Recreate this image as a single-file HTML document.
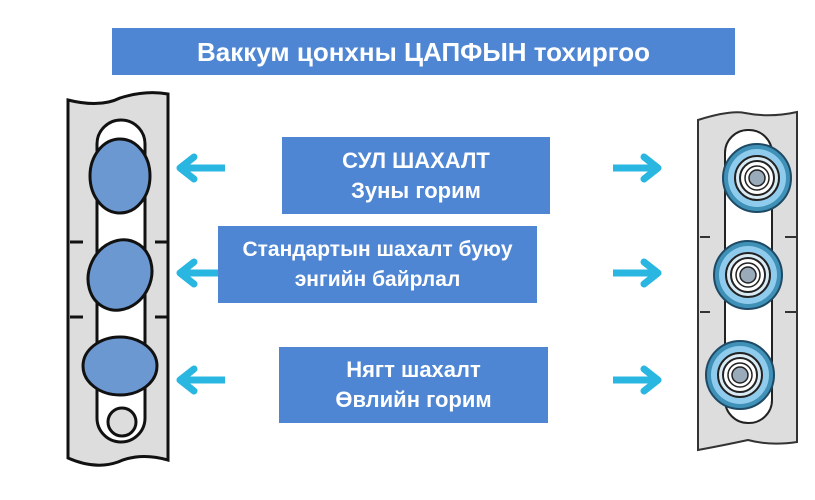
<!DOCTYPE html>
<html><head><meta charset="utf-8"><style>
body{margin:0;width:815px;height:500px;background:#fff;position:relative;overflow:hidden;font-family:"Liberation Sans","DejaVu Sans",sans-serif}
.b{position:absolute;background:#4e86d4;color:#fff;font-weight:bold;text-align:center;display:flex;flex-direction:column;justify-content:center;font-size:21px;line-height:30px}
svg{position:absolute;left:0;top:0}
</style></head><body>
<svg width="815" height="500">
<defs><g id="al"><path d="M0 0 L14 -11 M0 0 L14 11" stroke="#29b6e0" stroke-width="7" fill="none" stroke-linecap="round"/><line x1="2" y1="0" x2="45" y2="0" stroke="#29b6e0" stroke-width="7"/></g>
<g id="roll"><circle r="34" fill="#3f91b8" stroke="#1f4a66" stroke-width="2"/><circle r="29" fill="#8fcbec"/><circle r="22" fill="#d8eaf4" stroke="#222" stroke-width="2"/><circle r="17" fill="#fff" stroke="#222" stroke-width="2"/><circle r="12" fill="#fff" stroke="#222" stroke-width="1.5"/><circle r="8" fill="#9ab" stroke="#222" stroke-width="1.5"/></g></defs>
<path d="M68 100 Q100 108 120 98 Q145 90 168 94 L168 460 Q140 452 118 462 Q95 470 68 458 Z" fill="#ddd" stroke="#111" stroke-width="3"/>
<rect x="97" y="120" width="48" height="322" rx="24" fill="#fff" stroke="#111" stroke-width="3"/>
<g stroke="#111" stroke-width="3"><line x1="70" y1="242" x2="83" y2="242"/><line x1="155" y1="242" x2="168" y2="242"/><line x1="70" y1="317" x2="83" y2="317"/><line x1="155" y1="317" x2="168" y2="317"/></g>
<ellipse cx="120" cy="176" rx="30" ry="37" fill="#6c98d2" stroke="#111" stroke-width="3"/>
<ellipse cx="120" cy="275" rx="31" ry="36" fill="#6c98d2" stroke="#111" stroke-width="3" transform="rotate(25 120 275)"/>
<ellipse cx="120" cy="366" rx="37" ry="29" fill="#6c98d2" stroke="#111" stroke-width="3"/>
<circle cx="122" cy="422" r="14" fill="#ddd" stroke="#111" stroke-width="3"/>
<path d="M698 120 Q730 110 745 113 Q770 118 797 112 L797 442 Q770 446 748 440 Q725 445 698 450 Z" fill="#ddd" stroke="#333" stroke-width="2"/>
<rect x="725" y="130" width="47" height="293" rx="23" fill="#fff" stroke="#222" stroke-width="2"/>
<g stroke="#333" stroke-width="2"><line x1="700" y1="237" x2="710" y2="237"/><line x1="785" y1="237" x2="797" y2="237"/><line x1="700" y1="312" x2="710" y2="312"/><line x1="785" y1="312" x2="797" y2="312"/></g>
<use href="#roll" x="757" y="178"/><use href="#roll" x="748" y="275"/><use href="#roll" x="740" y="375"/>
<use href="#al" x="180" y="168"/><use href="#al" x="180" y="273"/><use href="#al" x="180" y="380"/>
<use href="#al" transform="translate(658 168) scale(-1 1)"/><use href="#al" transform="translate(658 273) scale(-1 1)"/><use href="#al" transform="translate(658 380) scale(-1 1)"/>
</svg>
<div class="b" style="left:112px;top:28px;width:623px;height:47px;font-size:26px">Ваккум цонхны ЦАПФЫН тохиргоо</div>
<div class="b" style="left:282px;top:137px;width:268px;height:77px;font-size:22px">СУЛ ШАХАЛТ<br>Зуны горим</div>
<div class="b" style="left:218px;top:226px;width:319px;height:77px">Стандартын шахалт буюу<br>энгийн байрлал</div>
<div class="b" style="left:279px;top:347px;width:269px;height:76px;font-size:22px">Нягт шахалт<br>Өвлийн горим</div>
</body></html>
